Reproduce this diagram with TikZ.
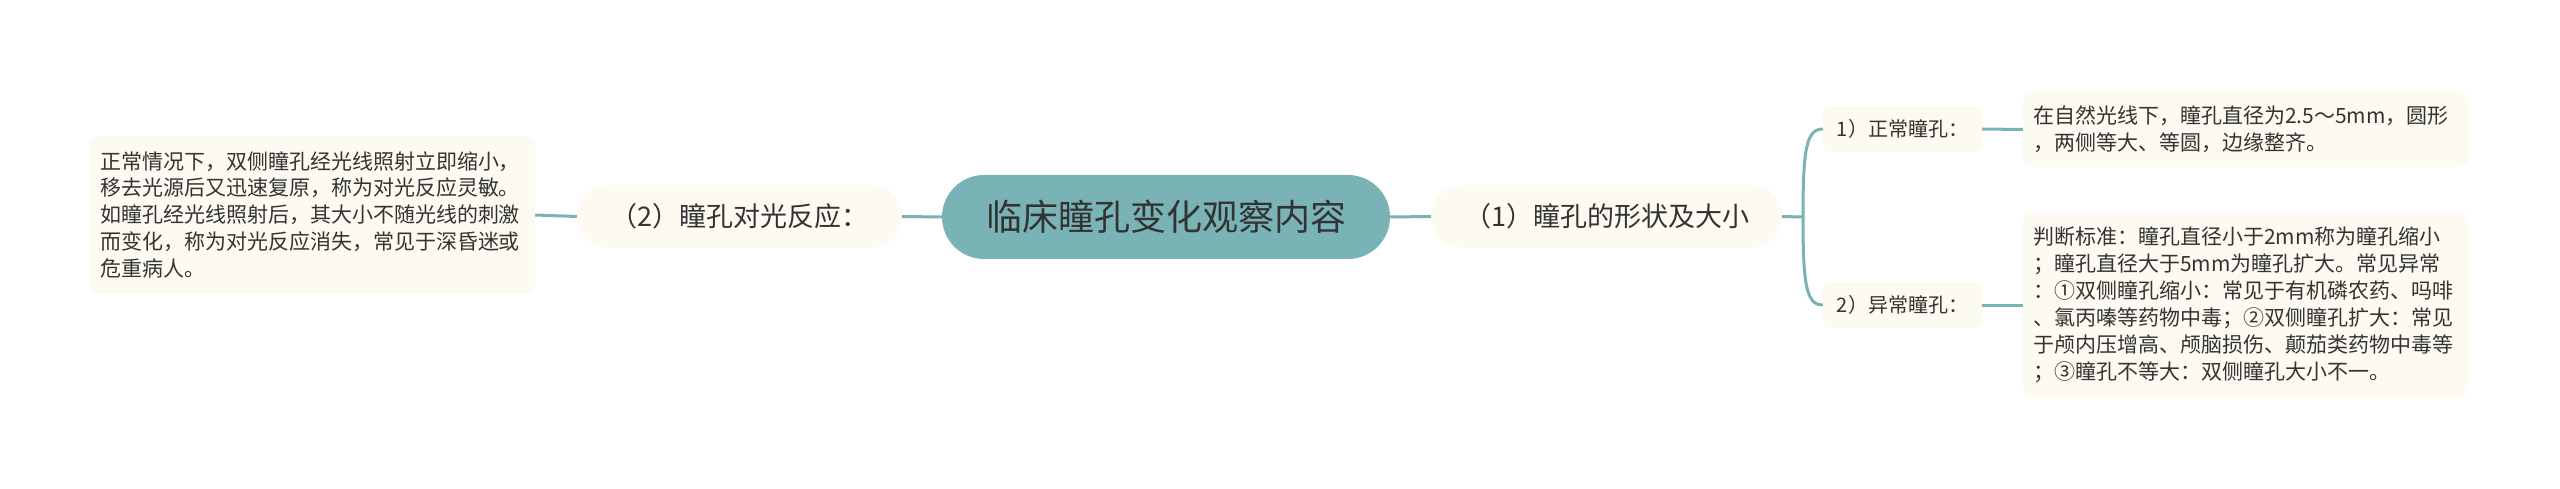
\documentclass[tikz,border=0pt]{standalone}
\usepackage{fontspec}
\setmainfont{Noto Sans CJK SC}
\definecolor{teal1}{RGB}{122,179,182}
\definecolor{cream}{RGB}{252,250,241}
\definecolor{txt}{RGB}{51,51,51}
\begin{document}
\begin{tikzpicture}[x=1pt,y=-1pt,
  root/.style={fill=teal1, rounded corners=42pt, minimum width=448pt, minimum height=84pt, inner sep=0pt, text=txt, font=\fontsize{36}{40}\selectfont},
  mainnode/.style={fill=cream, rounded corners=31pt, minimum height=63pt, inner sep=0pt, text=txt, font=\fontsize{27}{30}\selectfont},
  subnode/.style={fill=cream, rounded corners=8pt, minimum width=159pt, minimum height=46pt, inner sep=0pt, text=txt, font=\fontsize{20}{24}\selectfont},
  leaf/.style={fill=cream, rounded corners=8pt, text width=425pt, inner xsep=10pt, inner ysep=0pt, align=left, text=txt, font=\fontsize{21}{27}\selectfont},
  link/.style={draw=teal1, line width=3pt}]
\useasboundingbox (0,0) rectangle (2560,489);

\node[root] (root) at (1166,217) {临床瞳孔变化观察内容};
\node[mainnode, minimum width=351pt] (m1) at (1606.5,216.5) {（1）瞳孔的形状及大小};
\node[mainnode, minimum width=325pt] (m2) at (739.5,216.5) {（2）瞳孔对光反应：};
\node[leaf, minimum height=158pt] (l2) at (312.5,215) {正常情况下，双侧瞳孔经光线照射立即缩小，\\移去光源后又迅速复原，称为对光反应灵敏。\\如瞳孔经光线照射后，其大小不随光线的刺激\\而变化，称为对光反应消失，常见于深昏迷或\\危重病人。};
\node[subnode] (s1) at (1902.5,129) {1）正常瞳孔：};
\node[subnode] (s2) at (1902.5,305) {2）异常瞳孔：};
\node[leaf, minimum height=75pt] (b1) at (2245.5,129.5) {在自然光线下，瞳孔直径为2.5～5mm，圆形\\，两侧等大、等圆，边缘整齐。};
\node[leaf, minimum height=184pt] (b2) at (2245.5,305) {判断标准：瞳孔直径小于2mm称为瞳孔缩小\\；瞳孔直径大于5mm为瞳孔扩大。常见异常\\：①双侧瞳孔缩小：常见于有机磷农药、吗啡\\、氯丙嗪等药物中毒；②双侧瞳孔扩大：常见\\于颅内压增高、颅脑损伤、颠茄类药物中毒等\\；③瞳孔不等大：双侧瞳孔大小不一。};

\coordinate (br) at (1803,217);
\draw[link] (root.east) -- (m1.west);
\draw[link] (root.west) -- (m2.east);
\draw[link] (m2.west) -- (l2.east);
\draw[link] (m1.east) -- (br);
\draw[link] (br) .. controls (1803,150) and (1806,129) .. (s1.west);
\draw[link] (br) .. controls (1803,284) and (1806,305) .. (s2.west);
\draw[link] (s1.east) -- (b1.west);
\draw[link] (s2.east) -- (b2.west);
\end{tikzpicture}
\end{document}
